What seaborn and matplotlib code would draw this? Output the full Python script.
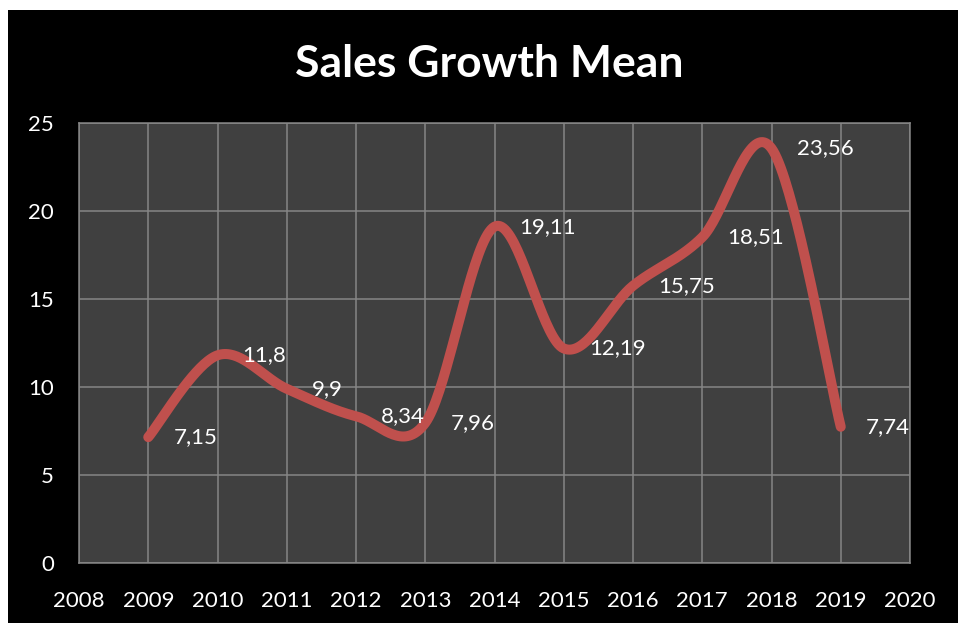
import numpy as np
import pandas as pd
import matplotlib
matplotlib.use("Agg")
import matplotlib.pyplot as plt
from matplotlib.patches import Rectangle
import seaborn as sns

# Yearly mean sales growth
years = [2009, 2010, 2011, 2012, 2013, 2014, 2015, 2016, 2017, 2018, 2019]
growth = [7.15, 11.8, 9.9, 8.34, 7.96, 19.11, 12.19, 15.75, 18.51, 23.56, 7.74]
x_ticks = list(range(2008, 2021))
y_ticks = [0, 5, 10, 15, 20, 25]
title = "Sales Growth Mean"

LINE_RED = "#C0504D"
PANEL = "#404040"
GRID = "#868686"


def smooth_curve(xs, ys, steps=40):
    """Cubic Bezier smoothing through every point (Catmull-Rom tangents)."""
    p = np.column_stack([xs, ys]).astype(float)
    ext = np.vstack([p[0], p, p[-1]])
    t = np.linspace(0, 1, steps)[:, None]
    pieces = []
    for i in range(len(p) - 1):
        p0, p1 = ext[i + 1], ext[i + 2]
        c1 = p0 + (ext[i + 2] - ext[i]) / 6.0
        c2 = p1 - (ext[i + 3] - ext[i + 1]) / 6.0
        seg = ((1 - t) ** 3) * p0 + 3 * ((1 - t) ** 2) * t * c1 \
            + 3 * (1 - t) * t ** 2 * c2 + t ** 3 * p1
        pieces.append(seg if i == 0 else seg[1:])
    return np.vstack(pieces)


sns.set_theme(style="dark")
plt.rcParams["font.family"] = ["Lato", "DejaVu Sans"]

W, H = 958, 623
fig = plt.figure(figsize=(W / 100, H / 100), dpi=100, facecolor="white")

# black chart area with a thin white margin on the top and left
bg = fig.add_axes([0, 0, 1, 1], zorder=-10)
bg.set_xlim(0, 1)
bg.set_ylim(0, 1)
bg.add_patch(Rectangle((8 / W, 0), 1 - 8 / W, (H - 10) / H,
                       facecolor="black", edgecolor="none"))
bg.set_facecolor("white")
bg.axis("off")

ax = fig.add_axes([79 / W, 1 - 563 / H, (910 - 79) / W, (563 - 123) / H])
ax.set_facecolor(PANEL)

curve = smooth_curve(years, growth)
curve_df = pd.DataFrame({"year": curve[:, 0], "growth": curve[:, 1]})
sns.lineplot(data=curve_df, x="year", y="growth", sort=False, estimator=None,
             color=LINE_RED, linewidth=7.2, solid_capstyle="round", ax=ax,
             zorder=3)

for yr, val in zip(years, growth):
    ax.annotate(f"{val:g}".replace(".", ","), xy=(yr, val), xytext=(18, 0),
                textcoords="offset points", ha="left", va="center",
                color="white", fontsize=16, zorder=4)

ax.set_xlim(2008, 2020)
ax.set_ylim(0, 25)
ax.set_xticks(x_ticks)
ax.set_yticks(y_ticks)
ax.set_xticklabels([str(v) for v in x_ticks])
ax.set_yticklabels([str(v) for v in y_ticks])
ax.tick_params(axis="both", length=0, colors="white", labelsize=16)
ax.tick_params(axis="x", pad=20)
ax.tick_params(axis="y", pad=18)
ax.set_xlabel("")
ax.set_ylabel("")
ax.grid(True, color=GRID, linewidth=1.1)
ax.set_axisbelow(True)
for side in ["left", "bottom", "top", "right"]:
    ax.spines[side].set_visible(True)
    ax.spines[side].set_color(GRID)
    ax.spines[side].set_linewidth(1.1)

fig.text(489 / W, 1 - 64 / H, title, ha="center", va="center",
         color="white", fontsize=32, fontweight="bold")

fig.savefig("out.png", dpi=100, facecolor=fig.get_facecolor())
